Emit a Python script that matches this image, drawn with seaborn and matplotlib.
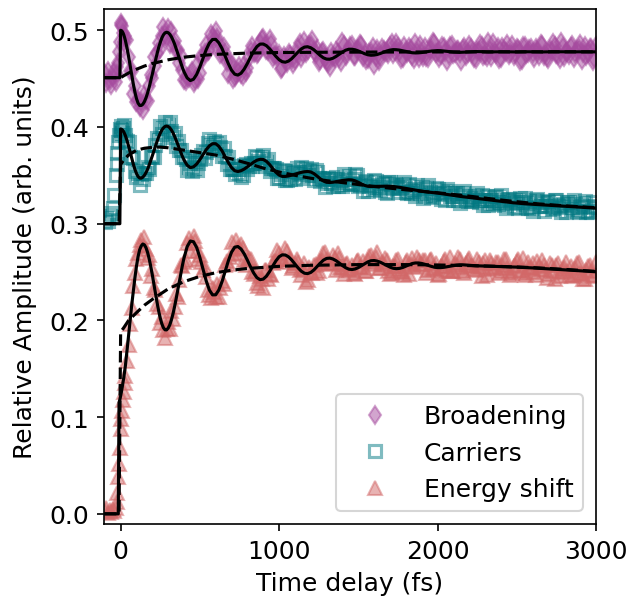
import numpy as np
import matplotlib
matplotlib.use("Agg")
import matplotlib.pyplot as plt
import seaborn as sns

plt.rcParams['font.size'] = 12

# pump-probe delay axis (finer sampling around time zero)
delay_fs = np.concatenate([np.arange(-100, -25, 10), np.arange(-25, 30, 5),
                           np.arange(30, 400, 10), np.arange(400, 3001, 20)])
# second, interleaved set of delays for the long-time part of the scan
delay_fs_mid = np.arange(410, 3000, 20)

# ---- Broadening ----
broadening = [
    0.455, 0.446, 0.458, 0.449, 0.443, 0.452, 0.457, 0.447,
    0.455, 0.462, 0.466, 0.478, 0.488, 0.505, 0.508, 0.504, 0.497, 0.488, 0.494,
    0.491, 0.490, 0.472, 0.458, 0.458, 0.434, 0.442, 0.426, 0.428, 0.421,
    0.426, 0.418, 0.433, 0.428, 0.427, 0.442, 0.454, 0.451, 0.472, 0.463,
    0.476, 0.487, 0.481, 0.494, 0.503, 0.496, 0.493, 0.502, 0.486, 0.499,
    0.487, 0.489, 0.480, 0.480, 0.466, 0.473, 0.459,
    0.449, 0.452, 0.454, 0.445, 0.464, 0.456, 0.471, 0.485, 0.480, 0.493,
    0.499, 0.486, 0.476, 0.477, 0.455, 0.465, 0.452, 0.457, 0.455, 0.464,
    0.461, 0.479, 0.476, 0.475, 0.487, 0.492, 0.480, 0.491, 0.471, 0.473,
    0.475, 0.461, 0.469, 0.476, 0.470, 0.469, 0.482, 0.471, 0.489, 0.480,
    0.485, 0.479, 0.481, 0.469, 0.479, 0.468, 0.462, 0.472, 0.479, 0.471,
    0.488, 0.473, 0.480, 0.485, 0.473, 0.481, 0.485, 0.475, 0.470, 0.478,
    0.464, 0.481, 0.473, 0.480, 0.478, 0.484, 0.475, 0.487, 0.478, 0.471,
    0.479, 0.483, 0.473, 0.487, 0.471, 0.477, 0.483, 0.471, 0.481, 0.487,
    0.478, 0.474, 0.483, 0.468, 0.484, 0.475, 0.480, 0.476, 0.481, 0.473,
    0.485, 0.476, 0.470, 0.479, 0.484, 0.474, 0.488, 0.472, 0.478, 0.483,
    0.471, 0.480, 0.486, 0.477, 0.473, 0.482, 0.468, 0.484, 0.475, 0.481,
    0.477, 0.482, 0.473, 0.485, 0.476, 0.470, 0.479, 0.484, 0.474, 0.488,
    0.472, 0.478, 0.483, 0.471, 0.480, 0.486, 0.477, 0.473, 0.482, 0.468,
    0.484,
]
broadening_mid = [
    0.448, 0.451, 0.458, 0.449, 0.450, 0.472, 0.476, 0.479, 0.496, 0.490,
    0.492, 0.475, 0.483, 0.467, 0.466, 0.450, 0.455, 0.463, 0.453, 0.457,
    0.471, 0.484, 0.478, 0.476, 0.491, 0.485, 0.479, 0.486, 0.474, 0.474,
    0.460, 0.473, 0.466, 0.474, 0.465, 0.477, 0.487, 0.477, 0.477, 0.485,
    0.490, 0.475, 0.467, 0.478, 0.471, 0.466, 0.478, 0.471, 0.477, 0.467,
    0.485, 0.478, 0.484, 0.473, 0.480, 0.486, 0.472, 0.469, 0.477, 0.483,
    0.472, 0.468, 0.482, 0.478, 0.475, 0.487, 0.479, 0.483, 0.470, 0.484,
    0.476, 0.481, 0.470, 0.478, 0.485, 0.472, 0.472, 0.480, 0.488, 0.476,
    0.471, 0.484, 0.478, 0.474, 0.485, 0.476, 0.480, 0.468, 0.483, 0.476,
    0.482, 0.471, 0.479, 0.486, 0.473, 0.472, 0.480, 0.487, 0.475, 0.470,
    0.483, 0.478, 0.474, 0.485, 0.477, 0.481, 0.469, 0.484, 0.476, 0.482,
    0.471, 0.479, 0.486, 0.473, 0.472, 0.480, 0.487, 0.475, 0.470, 0.483,
    0.478, 0.474, 0.485, 0.477, 0.481, 0.469, 0.484, 0.476, 0.482, 0.471,
]
broadening_fit = [
    0.451, 0.451, 0.451, 0.451, 0.451, 0.451, 0.451, 0.451,
    0.451, 0.451, 0.451, 0.451, 0.451, 0.500, 0.4997, 0.4988, 0.4973, 0.4952, 0.4925,
    0.4894, 0.4819, 0.4731, 0.4634, 0.4537, 0.4444, 0.4361, 0.4294, 0.4247, 0.4223,
    0.4222, 0.4235, 0.4262, 0.4301, 0.4351, 0.441, 0.4476, 0.4546, 0.4618, 0.469,
    0.4758, 0.4821, 0.4875, 0.492, 0.4953, 0.4973, 0.498, 0.4975, 0.4959, 0.4934,
    0.49, 0.486, 0.4813, 0.4763, 0.4712, 0.4662, 0.4614,
    0.4571, 0.4507, 0.448, 0.4494, 0.4544, 0.4621, 0.4711, 0.4799, 0.4867, 0.4905,
    0.4906, 0.487, 0.4811, 0.4733, 0.4654, 0.4587, 0.4546, 0.4537, 0.4556, 0.4599,
    0.4657, 0.4723, 0.4784, 0.4831, 0.4857, 0.4858, 0.4841, 0.4809, 0.477, 0.473,
    0.4696, 0.4675, 0.467, 0.4682, 0.4707, 0.4741, 0.4776, 0.4807, 0.4826, 0.483,
    0.4819, 0.4798, 0.4769, 0.4739, 0.4715, 0.4702, 0.4701, 0.4711, 0.473, 0.4753,
    0.4775, 0.4794, 0.4804, 0.4804, 0.4798, 0.4786, 0.4772, 0.4758, 0.4747, 0.4742,
    0.4744, 0.475, 0.4761, 0.4774, 0.4786, 0.4795, 0.48, 0.4799, 0.4795, 0.4788,
    0.478, 0.4773, 0.4768, 0.4766, 0.4767, 0.477, 0.4775, 0.478, 0.4785, 0.4788,
    0.479, 0.4789, 0.4786, 0.4782, 0.4778, 0.4775, 0.4773, 0.4772, 0.4773, 0.4775,
    0.4777, 0.4779, 0.478, 0.478, 0.4779, 0.4777, 0.4776, 0.4776, 0.4777, 0.4778,
    0.4778, 0.4778, 0.4777, 0.4777, 0.4776, 0.4776, 0.4777, 0.4777, 0.4778, 0.4778,
    0.4777, 0.4777, 0.4777, 0.4776, 0.4777, 0.4777, 0.4778, 0.4778, 0.4777, 0.4777,
    0.4777, 0.4777, 0.4778, 0.4778, 0.4777, 0.4777, 0.4777, 0.4777, 0.4777, 0.4777,
    0.4777,
]
broadening_rise_t = [-100, 0, 20, 50, 100, 150, 200, 300, 400, 500, 600,
                     800, 1000, 1300, 1600, 2000, 2500, 3000]
broadening_rise = [0.451, 0.451, 0.453, 0.4558, 0.4597, 0.463, 0.4656, 0.4695,
                   0.4722, 0.4739, 0.4751, 0.4764, 0.477, 0.4773, 0.4775,
                   0.4776, 0.4777, 0.4777]

# ---- Carriers ----
carriers = [
    0.302, 0.306, 0.303, 0.308, 0.311, 0.316, 0.330, 0.350,
    0.362, 0.373, 0.384, 0.392, 0.398, 0.401, 0.397, 0.394, 0.399, 0.402, 0.392,
    0.387, 0.386, 0.384, 0.369, 0.369, 0.368, 0.355, 0.348, 0.352, 0.340,
    0.351, 0.346, 0.352, 0.352, 0.359, 0.357, 0.370, 0.369, 0.369, 0.381,
    0.389, 0.387, 0.401, 0.393, 0.399, 0.405, 0.396, 0.402, 0.405, 0.396,
    0.390, 0.394, 0.380, 0.386, 0.376, 0.376, 0.369,
    0.369, 0.356, 0.363, 0.358, 0.356, 0.367, 0.375, 0.374, 0.388, 0.379,
    0.383, 0.384, 0.370, 0.370, 0.369, 0.357, 0.351, 0.357, 0.348, 0.361,
    0.357, 0.363, 0.363, 0.369, 0.363, 0.371, 0.364, 0.355, 0.358, 0.357,
    0.347, 0.356, 0.345, 0.349, 0.354, 0.346, 0.353, 0.359, 0.353, 0.350,
    0.357, 0.345, 0.353, 0.344, 0.346, 0.342, 0.346, 0.339, 0.348, 0.343,
    0.339, 0.346, 0.349, 0.342, 0.351, 0.339, 0.341, 0.344, 0.334, 0.340,
    0.345, 0.338, 0.335, 0.342, 0.332, 0.343, 0.337, 0.340, 0.337, 0.340,
    0.333, 0.341, 0.334, 0.329, 0.335, 0.338, 0.330, 0.340, 0.328, 0.332,
    0.336, 0.326, 0.332, 0.336, 0.329, 0.325, 0.332, 0.321, 0.332, 0.325,
    0.329, 0.326, 0.329, 0.322, 0.330, 0.324, 0.319, 0.325, 0.328, 0.320,
    0.330, 0.319, 0.322, 0.326, 0.317, 0.322, 0.327, 0.320, 0.317, 0.323,
    0.313, 0.324, 0.318, 0.322, 0.318, 0.322, 0.315, 0.324, 0.318, 0.312,
    0.319, 0.322, 0.315, 0.325, 0.313, 0.317, 0.321, 0.312, 0.318, 0.322,
    0.315,
]
carriers_mid = [
    0.367, 0.359, 0.355, 0.365, 0.363, 0.371, 0.368, 0.383, 0.381, 0.386,
    0.376, 0.379, 0.378, 0.362, 0.357, 0.357, 0.360, 0.352, 0.350, 0.362,
    0.360, 0.360, 0.370, 0.365, 0.369, 0.360, 0.367, 0.358, 0.358, 0.347,
    0.351, 0.355, 0.345, 0.346, 0.352, 0.358, 0.351, 0.347, 0.358, 0.354,
    0.350, 0.356, 0.347, 0.347, 0.338, 0.347, 0.342, 0.346, 0.339, 0.345,
    0.351, 0.341, 0.341, 0.346, 0.350, 0.340, 0.334, 0.343, 0.339, 0.336,
    0.344, 0.338, 0.341, 0.333, 0.343, 0.338, 0.341, 0.333, 0.338, 0.343,
    0.332, 0.332, 0.336, 0.340, 0.332, 0.327, 0.337, 0.333, 0.329, 0.337,
    0.331, 0.333, 0.325, 0.334, 0.329, 0.332, 0.324, 0.329, 0.334, 0.323,
    0.323, 0.327, 0.332, 0.324, 0.319, 0.329, 0.324, 0.321, 0.329, 0.322,
    0.325, 0.316, 0.326, 0.321, 0.325, 0.316, 0.322, 0.327, 0.316, 0.316,
    0.321, 0.326, 0.318, 0.313, 0.323, 0.319, 0.316, 0.324, 0.317, 0.320,
    0.312, 0.322, 0.317, 0.320, 0.312, 0.318, 0.323, 0.313, 0.312, 0.317,
]
carriers_fit = [
    0.300, 0.300, 0.300, 0.300, 0.300, 0.300, 0.300, 0.300,
    0.300, 0.300, 0.300, 0.300, 0.300, 0.398, 0.3977, 0.3972, 0.3962, 0.3949, 0.3931,
    0.3911, 0.3862, 0.3804, 0.3741, 0.3677, 0.3616, 0.3563, 0.3519, 0.3488, 0.3472,
    0.3471, 0.3481, 0.35, 0.3528, 0.3563, 0.3605, 0.3652, 0.3702, 0.3753, 0.3804,
    0.3852, 0.3897, 0.3936, 0.3967, 0.3991, 0.4005, 0.401, 0.4005, 0.3992, 0.397,
    0.3941, 0.3906, 0.3866, 0.3823, 0.378, 0.3736, 0.3695,
    0.3659, 0.3604, 0.358, 0.3588, 0.3617, 0.3662, 0.3714, 0.3765, 0.3805, 0.3827,
    0.3827, 0.38, 0.3753, 0.3693, 0.3631, 0.358, 0.3548, 0.354, 0.3548, 0.3565,
    0.3588, 0.3613, 0.3637, 0.3656, 0.3666, 0.3664, 0.3645, 0.3612, 0.3571, 0.3532,
    0.3503, 0.3489, 0.3489, 0.3494, 0.3502, 0.3512, 0.3522, 0.3531, 0.3537, 0.354,
    0.3535, 0.3518, 0.3492, 0.3464, 0.3441, 0.3428, 0.3426, 0.3429, 0.3434, 0.344,
    0.3447, 0.3451, 0.3454, 0.3452, 0.3443, 0.3428, 0.3411, 0.3396, 0.3387, 0.3385,
    0.3385, 0.3386, 0.3387, 0.3388, 0.3388, 0.3387, 0.3385, 0.3381, 0.3376, 0.3371,
    0.3365, 0.3359, 0.3353, 0.3347, 0.3341, 0.3336, 0.3331, 0.3327, 0.3323, 0.332,
    0.3317, 0.3312, 0.3307, 0.3302, 0.3297, 0.3292, 0.3288, 0.3283, 0.3279, 0.3274,
    0.327, 0.3266, 0.3262, 0.3258, 0.3254, 0.325, 0.3246, 0.3242, 0.3238, 0.3234,
    0.323, 0.3226, 0.3222, 0.3219, 0.3216, 0.3213, 0.321, 0.3207, 0.3205, 0.3203,
    0.3201, 0.3199, 0.3197, 0.3195, 0.3193, 0.3191, 0.3189, 0.3187, 0.3185, 0.3183,
    0.3181, 0.3179, 0.3177, 0.3175, 0.3173, 0.3171, 0.3169, 0.3167, 0.3165, 0.3163,
    0.3161,
]
carriers_rise_t = [-100, -10, 0, 20, 50, 100, 150, 200, 250, 300, 400, 500, 600,
                   700, 800, 900, 1000, 1100, 1200, 1300, 1400, 1500, 1600,
                   1800, 2000, 2200, 2400, 2600, 2800, 3000]
carriers_rise = [0.300, 0.300, 0.361, 0.366, 0.371, 0.376, 0.378, 0.379, 0.3792,
                 0.3785, 0.376, 0.3735, 0.371, 0.367, 0.3625, 0.3575, 0.3535,
                 0.350, 0.347, 0.3445, 0.3425, 0.3405, 0.3385, 0.335, 0.332,
                 0.3285, 0.3245, 0.321, 0.3185, 0.3165]

# ---- Energy shift ----
energy_shift = [
    0.003, 0.006, 0.001, 0.004, 0.002, 0.005, 0.003, 0.006,
    0.012, 0.022, 0.038, 0.052, 0.068, 0.088, 0.098, 0.106, 0.118, 0.126, 0.135,
    0.143, 0.158, 0.175, 0.196, 0.213, 0.236, 0.249, 0.264, 0.270, 0.278,
    0.283, 0.277, 0.286, 0.274, 0.265, 0.268, 0.246, 0.253, 0.234, 0.231,
    0.217, 0.214, 0.197, 0.204, 0.190, 0.182, 0.191, 0.198, 0.191, 0.210,
    0.201, 0.214, 0.227, 0.224, 0.242, 0.257, 0.256,
    0.260, 0.280, 0.272, 0.287, 0.272, 0.268, 0.252, 0.245, 0.226, 0.233,
    0.224, 0.224, 0.241, 0.257, 0.258, 0.281, 0.270, 0.276, 0.279, 0.262,
    0.264, 0.263, 0.248, 0.239, 0.246, 0.233, 0.252, 0.248, 0.259, 0.261,
    0.270, 0.263, 0.275, 0.264, 0.254, 0.259, 0.260, 0.247, 0.259, 0.242,
    0.250, 0.257, 0.249, 0.261, 0.270, 0.263, 0.259, 0.268, 0.252, 0.265,
    0.254, 0.258, 0.252, 0.257, 0.248, 0.262, 0.255, 0.251, 0.262, 0.268,
    0.258, 0.271, 0.254, 0.258, 0.262, 0.248, 0.256, 0.262, 0.253, 0.250,
    0.260, 0.248, 0.265, 0.256, 0.262, 0.258, 0.262, 0.252, 0.263, 0.253,
    0.247, 0.256, 0.261, 0.252, 0.266, 0.251, 0.257, 0.263, 0.251, 0.259,
    0.265, 0.256, 0.252, 0.260, 0.246, 0.262, 0.253, 0.259, 0.255, 0.260,
    0.251, 0.263, 0.254, 0.247, 0.256, 0.261, 0.251, 0.265, 0.249, 0.255,
    0.259, 0.247, 0.256, 0.262, 0.252, 0.248, 0.257, 0.243, 0.259, 0.250,
    0.255, 0.251, 0.256, 0.247, 0.259, 0.249, 0.243, 0.252, 0.257, 0.247,
    0.260,
]
energy_shift_mid = [
    0.262, 0.285, 0.280, 0.282, 0.263, 0.260, 0.255, 0.231, 0.223, 0.229,
    0.238, 0.233, 0.238, 0.261, 0.266, 0.269, 0.283, 0.274, 0.275, 0.257,
    0.265, 0.250, 0.251, 0.236, 0.243, 0.252, 0.243, 0.247, 0.261, 0.273,
    0.264, 0.260, 0.272, 0.264, 0.256, 0.263, 0.252, 0.253, 0.240, 0.255,
    0.249, 0.258, 0.251, 0.262, 0.271, 0.259, 0.258, 0.265, 0.270, 0.255,
    0.248, 0.259, 0.253, 0.249, 0.261, 0.255, 0.261, 0.251, 0.267, 0.260,
    0.266, 0.254, 0.260, 0.265, 0.251, 0.249, 0.256, 0.263, 0.251, 0.247,
    0.262, 0.258, 0.255, 0.266, 0.258, 0.262, 0.249, 0.262, 0.254, 0.259,
    0.248, 0.256, 0.263, 0.251, 0.251, 0.259, 0.266, 0.255, 0.249, 0.262,
    0.257, 0.253, 0.264, 0.255, 0.259, 0.247, 0.262, 0.254, 0.260, 0.249,
    0.257, 0.264, 0.251, 0.249, 0.257, 0.264, 0.252, 0.247, 0.260, 0.254,
    0.250, 0.261, 0.253, 0.257, 0.244, 0.259, 0.251, 0.257, 0.246, 0.253,
    0.260, 0.247, 0.246, 0.254, 0.260, 0.248, 0.243, 0.256, 0.251, 0.246,
]
energy_shift_fit = [
    0.0, 0.0, 0.0, 0.0, 0.0, 0.0, 0.0, 0.0,
    0.0, 0.0, 0.0, 0.115, 0.118, 0.122, 0.126, 0.131, 0.136, 0.141, 0.147,
    0.153, 0.168, 0.184, 0.2, 0.216, 0.23, 0.244, 0.256, 0.266, 0.273,
    0.277, 0.279, 0.2781, 0.2752, 0.2704, 0.2638, 0.2559, 0.247, 0.2374, 0.2277,
    0.2184, 0.2098, 0.2023, 0.1965, 0.1924, 0.1903, 0.1902, 0.192, 0.1953, 0.2003,
    0.2065, 0.2139, 0.2221, 0.2309, 0.2398, 0.2487, 0.257,
    0.2646, 0.2763, 0.2821, 0.2813, 0.2753, 0.2651, 0.2529, 0.2409, 0.2314, 0.2264,
    0.2265, 0.2315, 0.2401, 0.2509, 0.2617, 0.2706, 0.2757, 0.2764, 0.2738, 0.2688,
    0.2623, 0.2553, 0.2489, 0.2442, 0.2421, 0.2427, 0.2457, 0.2505, 0.2562, 0.2616,
    0.2658, 0.2678, 0.2676, 0.2657, 0.2624, 0.2584, 0.2543, 0.2509, 0.2488, 0.2484,
    0.2496, 0.2522, 0.2557, 0.2593, 0.2623, 0.2641, 0.2644, 0.2635, 0.2617, 0.2593,
    0.2567, 0.2545, 0.253, 0.2526, 0.2532, 0.2546, 0.2566, 0.2587, 0.2605, 0.2617,
    0.2619, 0.2613, 0.2601, 0.2584, 0.2566, 0.2551, 0.2539, 0.2535, 0.2538, 0.2547,
    0.2561, 0.2576, 0.2588, 0.2594, 0.2594, 0.2589, 0.258, 0.2569, 0.2559, 0.255,
    0.2546, 0.2546, 0.2549, 0.2555, 0.2562, 0.2568, 0.2572, 0.2575, 0.2575, 0.2573,
    0.257, 0.2567, 0.2565, 0.2564, 0.2564, 0.2563, 0.2562, 0.2561, 0.256, 0.2558,
    0.2557, 0.2556, 0.2555, 0.2554, 0.2552, 0.2551, 0.2549, 0.2548, 0.2546, 0.2545,
    0.2543, 0.2541, 0.2539, 0.2537, 0.2535, 0.2533, 0.2531, 0.2529, 0.2527, 0.2525,
    0.2523, 0.2521, 0.2519, 0.2517, 0.2515, 0.2513, 0.2511, 0.2509, 0.2507, 0.2505,
    0.2503,
]
energy_rise_t = [-100, -10, 0, 20, 50, 100, 150, 200, 300, 400, 500, 600, 700,
                 800, 1000, 1200, 1500, 1800, 2000, 2200, 2400, 2600, 2800, 3000]
energy_rise = [0.0, 0.0, 0.188, 0.1925, 0.1999, 0.208, 0.2157, 0.2217, 0.2326,
               0.2401, 0.2455, 0.2493, 0.2519, 0.2537, 0.2559, 0.257, 0.2577,
               0.2577, 0.2573, 0.2567, 0.2558, 0.2546, 0.2528, 0.2507]

purple = '#a64c9f'
teal = '#007882'
red = '#d26868'

fig, ax = plt.subplots(figsize=(628 / 150, 603 / 150), dpi=150)
fig.subplots_adjust(left=0.1656, right=0.949, bottom=0.1294, top=0.9834)

t_all = np.concatenate([delay_fs, delay_fs_mid])
pts = dict(linestyle='', alpha=0.5, estimator=None, errorbar=None, ax=ax)
sns.lineplot(x=t_all, y=broadening + broadening_mid, marker='d', ms=6.3,
             color=purple, mec=purple, mew=1.0, label='Broadening', **pts)
sns.lineplot(x=t_all, y=carriers + carriers_mid, marker='s', ms=5.5,
             color=teal, mfc='none', mec=teal, mew=1.5, label='Carriers', **pts)
sns.lineplot(x=t_all, y=energy_shift + energy_shift_mid, marker='^', ms=6.5,
             color=red, mec=red, mew=1.0, label='Energy shift', **pts)

for y_fit in [broadening_fit, carriers_fit, energy_shift_fit]:
    sns.lineplot(x=delay_fs, y=y_fit, color='black', lw=1.5,
                 estimator=None, errorbar=None, ax=ax)
for t_r, y_r in [(broadening_rise_t, broadening_rise),
                 (carriers_rise_t, carriers_rise),
                 (energy_rise_t, energy_rise)]:
    sns.lineplot(x=t_r, y=y_r, color='black', lw=1.5, linestyle='--',
                 estimator=None, errorbar=None, ax=ax)

ax.set_xlim(-105, 3000)
ax.set_ylim(-0.0105, 0.522)
ax.set_xticks([0, 1000, 2000, 3000])
ax.set_xlabel('Time delay (fs)')
ax.set_ylabel('Relative Amplitude (arb. units)', labelpad=6)

handles, labels = ax.get_legend_handles_labels()
ax.legend(handles[:3], labels[:3], loc='lower right', handlelength=2.3)

fig.savefig('out.png', dpi=150)
